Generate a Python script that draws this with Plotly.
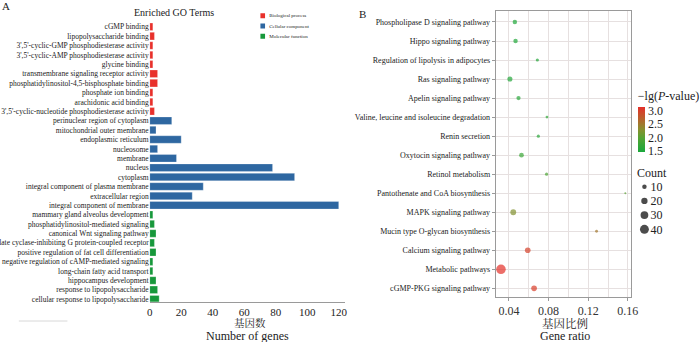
import plotly.graph_objects as go
import math

W, H = 700, 342
SERIF = "Liberation Serif, Times New Roman, serif"
CJK = "Liberation Serif, Noto Serif CJK SC, Noto Sans CJK SC, serif"

# ---------------- Panel A data (top to bottom) ----------------
go_terms = [
    "cGMP binding",
    "lipopolysaccharide binding",
    "3',5'-cyclic-GMP phosphodiesterase activity",
    "3',5'-cyclic-AMP phosphodiesterase activity",
    "glycine binding",
    "transmembrane signaling receptor activity",
    "phosphatidylinositol-4,5-bisphosphate binding",
    "phosphate ion binding",
    "arachidonic acid binding",
    "3',5'-cyclic-nucleotide phosphodiesterase activity",
    "perinuclear region of cytoplasm",
    "mitochondrial outer membrane",
    "endoplasmic reticulum",
    "nucleosome",
    "membrane",
    "nucleus",
    "cytoplasm",
    "integral component of plasma membrane",
    "extracellular region",
    "integral component of membrane",
    "mammary gland alveolus development",
    "phosphatidylinositol-mediated signaling",
    "canonical Wnt signaling pathway",
    "adenylate cyclase-inhibiting G protein-coupled receptor",
    "positive regulation of fat cell differentiation",
    "negative regulation of cAMP-mediated signaling",
    "long-chain fatty acid transport",
    "hippocampus development",
    "response to lipopolysaccharide",
    "cellular response to lipopolysaccharide",
]
go_counts = [2, 3, 2, 2, 2, 5, 5, 2, 2, 3,
             14, 4, 20, 5, 17, 78, 92, 34, 27, 120,
             2, 3, 4, 3, 4, 2, 2, 4, 5, 6]
go_groups = [0] * 10 + [1] * 10 + [2] * 10

group_names = ["Biological process", "Cellular component", "Molecular function"]
group_colors = ["#e8302b", "#2e67a1", "#17983b"]
go_ticks = [0, 20, 40, 60, 80, 100, 120]

# ---------------- Panel B data (top to bottom) ----------------
kegg_pathways = [
    "Phospholipase D signaling pathway",
    "Hippo signaling pathway",
    "Regulation of lipolysis in adipocytes",
    "Ras signaling pathway",
    "Apelin signaling pathway",
    "Valine, leucine and isoleucine degradation",
    "Renin secretion",
    "Oxytocin signaling pathway",
    "Retinol metabolism",
    "Pantothenate and CoA biosynthesis",
    "MAPK signaling pathway",
    "Mucin type O-glycan biosynthesis",
    "Calcium signaling pathway",
    "Metabolic pathways",
    "cGMP-PKG signaling pathway",
]
kegg_ratio = [0.046, 0.0467, 0.0687, 0.041, 0.0497, 0.0784, 0.0697, 0.0527,
              0.078, 0.1574, 0.0444, 0.1284, 0.059, 0.032, 0.0654]
kegg_count = [10, 10, 5, 13, 9, 4, 5, 11, 5, 2, 17, 4, 16, 46, 16]
kegg_neglogp = [1.5, 1.52, 1.55, 1.53, 1.58, 1.65, 1.6, 1.75, 1.9, 2.0,
                2.25, 2.5, 2.95, 3.11, 3.0]

ratio_ticks = [0.04, 0.08, 0.12, 0.16]
cbar_ticks = [1.5, 2.0, 2.5, 3.0]
count_legend = [10, 20, 30, 40]


def fx(px):
    return px / W


def fy(py):
    return 1 - py / H


def diam(c):
    return math.sqrt(2 * c)


fig = go.Figure()

# Panel A bars
fig.add_trace(go.Bar(
    x=go_counts, y=go_terms, orientation="h",
    marker=dict(color=[group_colors[g] for g in go_groups],
                line=dict(color="rgba(255,255,255,0.45)", width=0.6)),
    width=0.8, xaxis="x", yaxis="y", showlegend=False,
))

# Panel A legend (swatches on their own small axis)
fig.add_trace(go.Scatter(
    x=[0, 0, 0], y=group_names, mode="markers",
    marker=dict(symbol="square", size=5, color=group_colors),
    xaxis="x4", yaxis="y4", showlegend=False, hoverinfo="skip",
))

# Panel B bubbles
cs = [[0.0, "#1aa83c"], [0.3, "#52a434"], [0.5, "#88902f"],
      [0.72, "#b5652c"], [1.0, "#e4302a"]]
fig.add_trace(go.Scatter(
    x=kegg_ratio, y=kegg_pathways, mode="markers",
    marker=dict(
        size=[diam(c) for c in kegg_count], sizemode="diameter",
        color=kegg_neglogp, colorscale=cs, cmin=1.46, cmax=3.11,
        line=dict(width=0),
        colorbar=dict(
            x=fx(644.3), xanchor="left", y=fy(88.3), yanchor="top",
            thickness=7, thicknessmode="pixels", len=64.4, lenmode="pixels",
            outlinewidth=0, xpad=0, ypad=0, ticks="",
            tickvals=cbar_ticks, ticktext=["%.1f" % v for v in cbar_ticks],
            tickfont=dict(family=SERIF, size=12, color="#222"),
            title=dict(text="\u2212lg(<i>P</i>-value)", side="top",
                       font=dict(family=SERIF, size=12, color="#222")),
        ),
    ),
    xaxis="x2", yaxis="y2", showlegend=False,
))

# Count legend (bubble sizes on their own small axis)
fig.add_trace(go.Scatter(
    x=[0] * len(count_legend), y=[str(c) for c in count_legend], mode="markers",
    marker=dict(size=[diam(c) for c in count_legend], sizemode="diameter",
                color="black", line=dict(width=0)),
    xaxis="x3", yaxis="y3", showlegend=False, hoverinfo="skip",
))

gray = "#9a9a9a"
grid = "#e6e0e0"

fig.update_layout(
    template="none",
    width=W, height=H, margin=dict(l=0, r=0, t=0, b=0, pad=0),
    paper_bgcolor="white", plot_bgcolor="white", showlegend=False,
    font=dict(family=SERIF, color="#222"),
    bargap=0.2,
    xaxis=dict(domain=[fx(151), fx(348)], range=[0, 124], tickvals=go_ticks,
               showgrid=False, zeroline=False, showline=True, linecolor=gray,
               linewidth=1, ticks="", anchor="y", automargin=False,
               tickfont=dict(family=SERIF, size=11, color="#222")),
    yaxis=dict(domain=[fy(301.7), fy(21)], type="category",
               categoryorder="array", categoryarray=go_terms,
               range=[29.26, -0.61], showgrid=False, zeroline=False,
               showline=False, ticks="", anchor="x", automargin=False,
               tickfont=dict(family=SERIF, size=7.5, color="#222")),
    xaxis2=dict(domain=[fx(500), fx(636)], range=[0.0267, 0.1627],
                tickvals=ratio_ticks, ticktext=["%.2f" % v for v in ratio_ticks],
                showgrid=True, gridcolor=grid, gridwidth=1,
                minor=dict(tickvals=[0.06, 0.10, 0.14], showgrid=True,
                           gridcolor=grid, gridwidth=1, ticks=""),
                zeroline=False, showline=True, mirror=True, linecolor=gray,
                linewidth=1, ticks="outside", ticklen=3, tickcolor=gray,
                anchor="y2", automargin=False,
                tickfont=dict(family=SERIF, size=12, color="#333")),
    yaxis2=dict(domain=[fy(297), fy(11)], type="category",
                categoryorder="array", categoryarray=kegg_pathways,
                range=[14.457, -0.578], showgrid=True, gridcolor=grid,
                gridwidth=1, zeroline=False, showline=True, mirror=True,
                linecolor=gray, linewidth=1, ticks="outside", ticklen=3,
                tickcolor=gray, anchor="x2", automargin=False,
                tickfont=dict(family=SERIF, size=8, color="#222")),
    xaxis3=dict(domain=[fx(645), fx(655)], range=[-1, 1], visible=False,
                anchor="y3", automargin=False),
    yaxis3=dict(domain=[fy(236.4), fy(179.6)], type="category",
                categoryorder="array",
                categoryarray=[str(c) for c in count_legend],
                range=[3.5, -0.5], side="right", anchor="x3",
                showgrid=False, zeroline=False, showline=False, ticks="",
                automargin=False,
                tickfont=dict(family=SERIF, size=12, color="#222")),
    xaxis4=dict(domain=[fx(262.5), fx(267.5)], range=[-1, 1], visible=False,
                anchor="y4", automargin=False),
    yaxis4=dict(domain=[fy(41.3), fy(10.5)], type="category",
                categoryorder="array", categoryarray=group_names,
                range=[2.5, -0.5], side="right", anchor="x4",
                showgrid=False, zeroline=False, showline=False, ticks="",
                ticklabelstandoff=3, automargin=False,
                tickfont=dict(family=SERIF, size=5, color="#222")),
)

ann = [
    dict(text="A", x=fx(1), y=fy(6.5), xanchor="left", size=11),
    dict(text="B", x=fx(361), y=fy(14.5), xanchor="left", size=11),
    dict(text="Enriched GO Terms", x=fx(175), y=fy(12.7), xanchor="center", size=10),
    dict(text="基因数", x=fx(252), y=fy(323), xanchor="center", size=10.5),
    dict(text="Number of genes", x=fx(250), y=fy(336), xanchor="center", size=12),
    dict(text="基因比例", x=fx(569.5), y=fy(323.3), xanchor="center", size=11.5),
    dict(text="Gene ratio", x=fx(569.5), y=fy(336), xanchor="center", size=12),
    dict(text="Count", x=fx(642), y=fy(173), xanchor="left", size=12),
]
for a in ann:
    fig.add_annotation(text=a["text"], x=a["x"], y=a["y"], xref="paper",
                       yref="paper", xanchor=a["xanchor"], yanchor="middle",
                       showarrow=False, borderpad=0,
                       font=dict(family=CJK, size=a["size"], color="#222"))

fig.add_shape(type="line", xref="paper", yref="paper",
              x0=fx(19), x1=fx(68), y0=fy(321), y1=fy(321),
              line=dict(color="#d8d8d8", width=1))

fig.write_html("out.html",
               config={"displayModeBar": False, "staticPlot": True},
               post_script="document.body.style.margin='0';"
                           "document.body.style.overflow='hidden';")
